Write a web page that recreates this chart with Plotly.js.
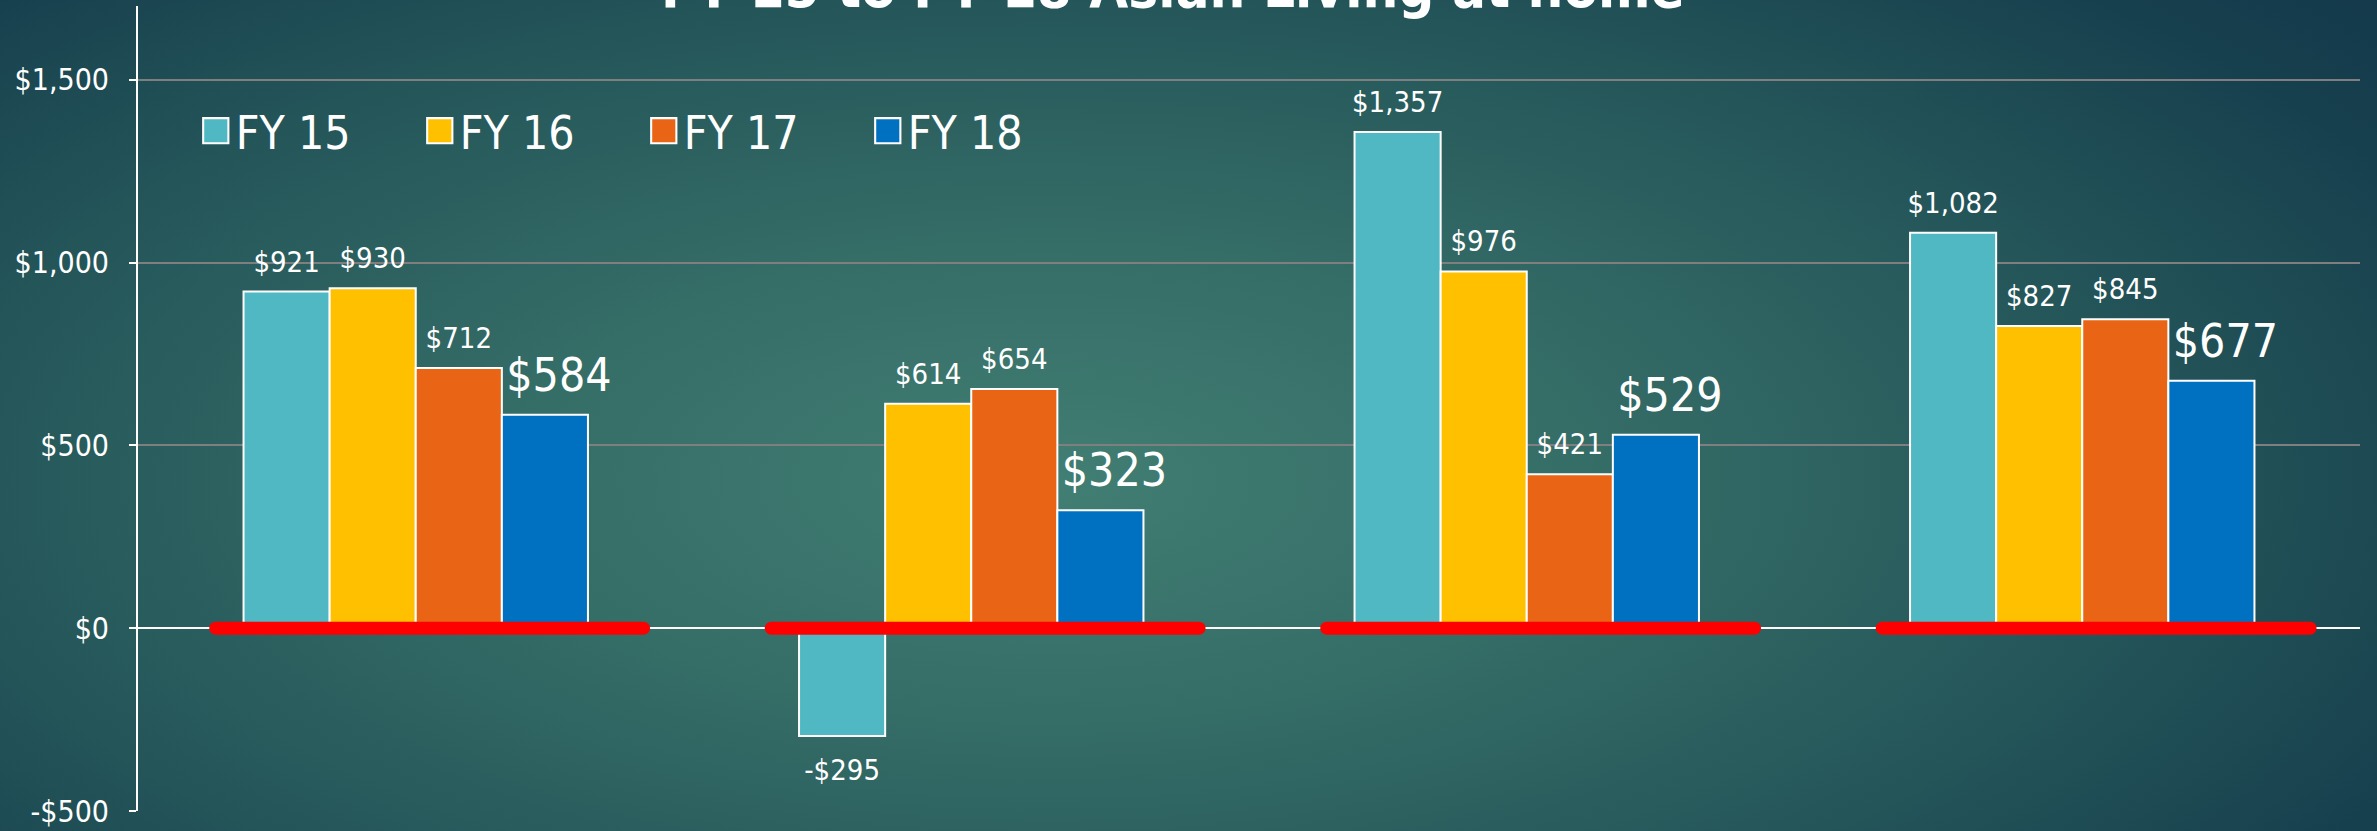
<!DOCTYPE html>
<html>
<head>
<meta charset="utf-8">
<script src="https://cdn.plot.ly/plotly-3.0.1.min.js"></script>
<style>
  html, body { margin: 0; padding: 0; width: 2377px; height: 831px; overflow: hidden; }
  body { background: radial-gradient(ellipse 75% 95% at 44% 58%, #417e73 0%, #356d67 30%, #25575a 60%, #17404e 85%, #12374a 100%); }
  #chart { width: 2377px; height: 831px; }
</style>
</head>
<body>
<div id="chart"></div>
<script>
const categories = ["Group 1", "Group 2", "Group 3", "Group 4"];
const seriesNames = ["FY 15", "FY 16", "FY 17", "FY 18"];
const fy15 = [921, -295, 1357, 1082];
const fy16 = [930, 614, 976, 827];
const fy17 = [712, 654, 421, 845];
const fy18 = [584, 323, 529, 677];
const yTickVals = [-500, 0, 500, 1000, 1500];
const yTickText = ["-$500", "$0", "$500", "$1,000", "$1,500"];
const titleText = "FY 15 to FY 18 Asian Living at home";

const colors = ["#4FB8C3", "#FFC000", "#E96414", "#0070C0"];
const labelSizes = [29, 29, 29, 46];
const FONT = "'Liberation Sans Narrow', 'DejaVu Sans Condensed', 'Open Sans', sans-serif";

function money(v) {
  const s = Math.abs(v).toLocaleString("en-US");
  return (v < 0 ? "-$" : "$") + s;
}

const allSeries = [fy15, fy16, fy17, fy18];
const traces = allSeries.map((vals, i) => ({
  type: "bar",
  name: seriesNames[i],
  x: categories,
  y: vals,
  text: vals.map(money),
  textposition: "outside",
  constraintext: "none",
  cliponaxis: false,
  outsidetextfont: { family: FONT, size: labelSizes[i], color: "#ffffff" },
  marker: { color: colors[i], line: { color: "#ffffff", width: 2 } },
  hoverinfo: "skip"
}));

const shapes = categories.map((c, i) => ({
  type: "line", xref: "x", yref: "y",
  x0: i - 0.36, x1: i + 0.41, y0: 0, y1: 0,
  line: { color: "#ff0000", width: 13 },
  layer: "above"
}));

const layout = {
  width: 2377, height: 831,
  paper_bgcolor: "rgba(0,0,0,0)",
  plot_bgcolor: "rgba(0,0,0,0)",
  margin: { l: 138, r: 17, t: 6, b: 20 },
  barmode: "group",
  bargap: 0.38,
  bargroupgap: 0,
  showlegend: true,
  legend: {
    orientation: "h", x: 0.026, xanchor: "left", y: 0.845, yanchor: "middle",
    font: { family: FONT, size: 46, color: "#ffffff" },
    entrywidth: 179, entrywidthmode: "pixels",
    bgcolor: "rgba(0,0,0,0)", traceorder: "normal"
  },
  xaxis: {
    type: "category", showticklabels: false, showgrid: false, zeroline: false,
    showline: false, ticks: ""
  },
  yaxis: {
    range: [-500, 1702],
    tickvals: yTickVals, ticktext: yTickText,
    tickfont: { family: FONT, size: 30, color: "#ffffff" },
    showgrid: true, gridcolor: "#7f7f7f", gridwidth: 2,
    zeroline: true, zerolinecolor: "#ffffff", zerolinewidth: 2,
    showline: true, linecolor: "#ffffff", linewidth: 2,
    ticks: "outside", ticklen: 7, tickcolor: "#ffffff", tickwidth: 2,
    ticklabelstandoff: 14
  },
  shapes: shapes,
  annotations: [{
    text: "<b>" + titleText + "</b>",
    xref: "paper", yref: "paper", x: 0.466, y: 1, xanchor: "center", yanchor: "bottom",
    yshift: -16, showarrow: false,
    font: { family: FONT, size: 56, color: "#ffffff" }
  }]
};

Plotly.newPlot("chart", traces, layout, { staticPlot: true }).then(gd => {
  gd.querySelectorAll(".barlayer .trace").forEach((tr, ti) => {
    tr.querySelectorAll(".point").forEach((pt, pi) => {
      const t = pt.querySelector("text");
      if (!t) return;
      const v = allSeries[ti][pi];
      const dy = v < 0 ? 14 : -10;
      const dx = ti === 3 ? 14 : 0;
      const tf = t.getAttribute("transform") || "";
      t.setAttribute("transform", "translate(" + dx + "," + dy + ") " + tf);
    });
  });
  gd.querySelectorAll(".shapelayer path").forEach(p => { p.style.strokeLinecap = "round"; });
  gd.querySelectorAll(".legend .legendpoints path").forEach(p => {
    const tf = p.getAttribute("transform") || "";
    p.setAttribute("transform", tf + " scale(2.1)");
    p.style.strokeWidth = "1px";
    p.style.stroke = "#ffffff";
  });
});
</script>
</body>
</html>
